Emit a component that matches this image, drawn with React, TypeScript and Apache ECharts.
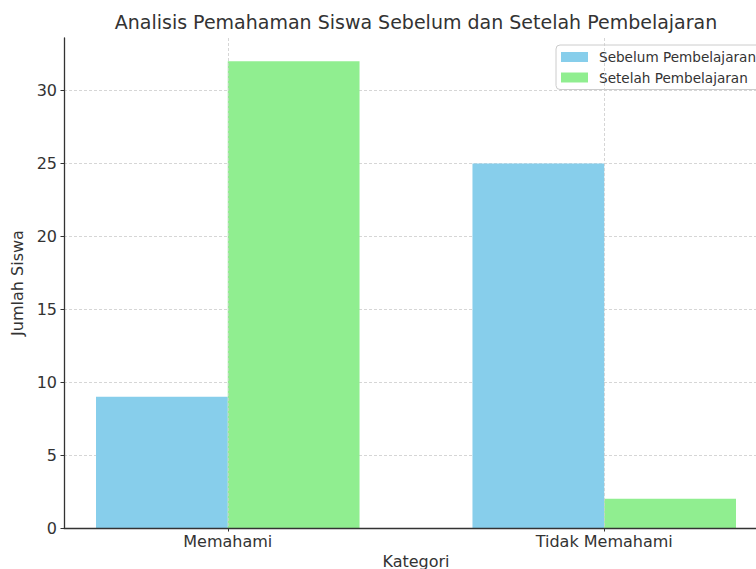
import React, { useEffect, useRef } from "react";
import * as echarts from "echarts";

const categories = ["Memahami", "Tidak Memahami"];
const seriesNames = ["Sebelum Pembelajaran", "Setelah Pembelajaran"];
const sebelum = [9, 25];
const setelah = [32, 2];
const yTicks = [0, 5, 10, 15, 20, 25, 30];
const title = "Analisis Pemahaman Siswa Sebelum dan Setelah Pembelajaran";
const xName = "Kategori";
const yName = "Jumlah Siswa";

const FONT = "DejaVu Sans";
const BAR_W = 0.35;

function makeSeries(name: string, values: number[], color: string, offset: number) {
  return {
    type: "custom",
    name,
    itemStyle: { color },
    encode: { x: 0, y: 1 },
    data: values.map((v, i) => [i, v]),
    z: 2,
    renderItem: (params: any, api: any) => {
      const x = api.value(0);
      const y = api.value(1);
      const tl = api.coord([x + offset - BAR_W / 2, y]);
      const br = api.coord([x + offset + BAR_W / 2, 0]);
      return {
        type: "rect",
        shape: { x: tl[0], y: tl[1], width: br[0] - tl[0], height: br[1] - tl[1] },
        style: { fill: api.visual("color") },
      };
    },
  };
}

export default function App() {
  const ref = useRef<HTMLDivElement>(null);
  useEffect(() => {
    if (!ref.current) return;
    const chart = echarts.init(ref.current, null, { renderer: "svg" });
    const grid = { left: 64, top: 38, width: 704, height: 490 };
    const gridLine = { color: "#cccccc", width: 0.8, type: [3, 2] as any };
    chart.setOption({
      animation: false,
      backgroundColor: "#ffffff",
      textStyle: { fontFamily: FONT },
      grid: { ...grid, containLabel: false, outerBoundsMode: "none" },
      graphic: [
        {
          type: "text",
          x: grid.left + grid.width / 2,
          y: 22,
          style: {
            text: title,
            fontFamily: FONT,
            fontSize: 19,
            fill: "#333333",
            textAlign: "center",
            textVerticalAlign: "middle",
          },
        },
      ],
      legend: {
        orient: "vertical",
        left: 556,
        top: 45,
        icon: "rect",
        itemWidth: 27,
        itemHeight: 10,
        itemGap: 4.5,
        padding: [4, 8, 4, 5],
        backgroundColor: "rgba(255,255,255,0.8)",
        borderColor: "#cccccc",
        borderWidth: 1,
        borderRadius: 4,
        textStyle: {
          fontFamily: FONT,
          fontSize: 13.6,
          color: "#333333",
          lineHeight: 16,
          padding: [0, 0, 0, 6],
        },
        data: seriesNames,
      },
      xAxis: {
        type: "value",
        min: -0.435,
        max: 1.435,
        z: 5,
        name: xName,
        nameLocation: "middle",
        nameGap: 23,
        nameTextStyle: { fontFamily: FONT, fontSize: 16, color: "#333333" },
        axisLine: { show: true, onZero: false, lineStyle: { color: "#333333", width: 1.3 } },
        axisTick: {
          show: true,
          customValues: [0, 1],
          length: 3.5,
          lineStyle: { color: "#333333", width: 1 },
        },
        axisLabel: {
          customValues: [0, 1],
          margin: 5,
          fontFamily: FONT,
          fontSize: 16,
          color: "#333333",
          formatter: (v: number) => categories[Math.round(v)] ?? "",
        },
        splitLine: { show: true, lineStyle: gridLine },
      },
      yAxis: {
        type: "value",
        min: 0,
        max: 33.6,
        name: yName,
        nameLocation: "middle",
        nameGap: 31,
        nameRotate: 90,
        nameTextStyle: { fontFamily: FONT, fontSize: 16, color: "#333333" },
        axisLine: { show: true, onZero: false, lineStyle: { color: "#333333", width: 1.3 } },
        axisTick: {
          show: true,
          customValues: yTicks,
          length: 3.5,
          lineStyle: { color: "#333333", width: 1 },
        },
        axisLabel: {
          customValues: yTicks,
          margin: 7,
          fontFamily: FONT,
          fontSize: 16,
          color: "#333333",
        },
        splitLine: { show: true, lineStyle: gridLine },
      },
      series: [
        makeSeries(seriesNames[0], sebelum, "#87CEEB", -BAR_W / 2),
        makeSeries(seriesNames[1], setelah, "#90EE90", BAR_W / 2),
      ],
    });
    return () => chart.dispose();
  }, []);
  return (
    <div
      style={{
        position: "absolute",
        left: 0,
        top: 0,
        width: 756,
        height: 569,
        overflow: "hidden",
        background: "#fff",
      }}
    >
      <div ref={ref} style={{ width: 800, height: 569 }} />
    </div>
  );
}
